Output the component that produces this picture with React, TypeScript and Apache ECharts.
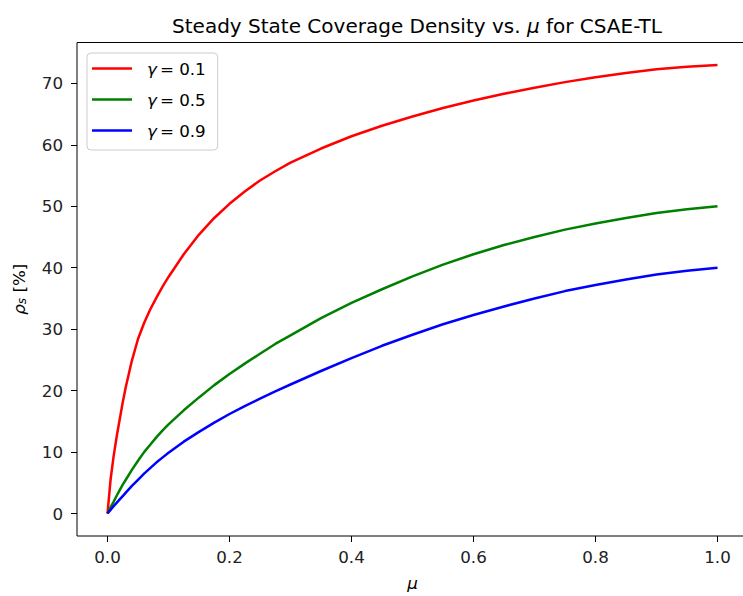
import React, { useEffect, useRef } from "react";
import * as echarts from "echarts";

const mu = [0, 0.005, 0.01, 0.015, 0.02, 0.025, 0.03, 0.04, 0.05, 0.06, 0.07, 0.08, 0.09, 0.1, 0.125, 0.15, 0.175, 0.2, 0.225, 0.25, 0.275, 0.3, 0.35, 0.4, 0.45, 0.5, 0.55, 0.6, 0.65, 0.7, 0.75, 0.8, 0.85, 0.9, 0.95, 1.0];
const rhoGamma01 = [0, 5.5, 9.3, 12.5, 15.3, 18.1, 20.6, 24.9, 28.4, 31.0, 33.2, 35.1, 36.9, 38.5, 42.2, 45.4, 48.1, 50.4, 52.4, 54.2, 55.7, 57.1, 59.4, 61.4, 63.1, 64.6, 66.0, 67.2, 68.3, 69.3, 70.2, 71.0, 71.7, 72.3, 72.7, 73.0];
const rhoGamma05 = [0, 1.0, 1.9, 2.9, 3.8, 4.7, 5.5, 7.1, 8.6, 10.0, 11.2, 12.4, 13.5, 14.5, 16.8, 18.9, 20.9, 22.7, 24.4, 26.0, 27.6, 29.0, 31.8, 34.3, 36.5, 38.6, 40.5, 42.2, 43.7, 45.0, 46.2, 47.2, 48.1, 48.9, 49.5, 50.0];
const rhoGamma09 = [0, 0.6, 1.2, 1.75, 2.3, 2.85, 3.4, 4.5, 5.5, 6.5, 7.4, 8.3, 9.1, 9.9, 11.7, 13.3, 14.8, 16.2, 17.5, 18.7, 19.9, 21.0, 23.2, 25.3, 27.3, 29.1, 30.8, 32.3, 33.7, 35.0, 36.2, 37.2, 38.1, 38.9, 39.5, 40.0];
const gammas = ["0.1", "0.5", "0.9"];
const colors = ["#ff0000", "#008000", "#0000ff"];
const xTicks = [0, 0.2, 0.4, 0.6, 0.8, 1.0];
const yTicks = [0, 10, 20, 30, 40, 50, 60, 70];

const FONT = "DejaVu Sans";

export default function App() {
  const ref = useRef<HTMLDivElement>(null);
  useEffect(() => {
    if (!ref.current) return;
    const chart = echarts.init(ref.current, undefined, { renderer: "svg" });
    const allSeries = [rhoGamma01, rhoGamma05, rhoGamma09];
    chart.setOption({
      animation: false,
      backgroundColor: "#ffffff",
      textStyle: { fontFamily: FONT },
      title: {
        text: "Steady State Coverage Density vs. {i|μ} for CSAE-TL",
        left: 412,
        textAlign: "center",
        top: 11,
        textStyle: {
          fontFamily: FONT,
          fontSize: 20,
          fontWeight: "normal",
          color: "#000",
          rich: { i: { fontFamily: FONT, fontSize: 20, fontStyle: "italic", color: "#000" } },
        },
      },
      legend: {
        orient: "vertical",
        left: 87,
        top: 53,
        padding: [7, 12, 11, 5],
        itemWidth: 40,
        itemHeight: 20,
        itemGap: 14,
        icon: "path://M0,0H40V2.5H0Z",
        backgroundColor: "rgba(255,255,255,0.8)",
        borderColor: "#cccccc",
        borderWidth: 1,
        borderRadius: 4,
        data: gammas.map((g) => `γ = ${g}`),
        formatter: (name: string) => `{g|γ}{t|= ${name.split("= ")[1]}}`,
        textStyle: {
          fontFamily: FONT,
          fontSize: 16.7,
          color: "#000",
          rich: {
            g: { fontFamily: FONT, fontSize: 16.7, fontStyle: "italic", color: "#000", padding: [0, 3, 0, 10] },
            t: { fontFamily: FONT, fontSize: 16.7, color: "#000" },
          },
        },
      },
      grid: {
        left: 77,
        top: 42.5,
        right: 1,
        bottom: 57.7,
        show: true,
        borderColor: "#000",
        borderWidth: 1,
        containLabel: false,
      },
      xAxis: {
        type: "value",
        min: -0.05,
        max: 1.05,
        name: "μ",
        nameLocation: "middle",
        nameGap: 38,
        nameTextStyle: { fontFamily: FONT, fontSize: 16.7, fontStyle: "italic", color: "#000" },
        axisLine: { show: false, onZero: false },
        axisTick: { show: true, length: 6, lineStyle: { color: "#000", width: 1 }, customValues: xTicks },
        axisLabel: {
          customValues: xTicks,
          margin: 12,
          fontFamily: FONT,
          fontSize: 16.7,
          color: "#222",
          formatter: (v: number) => v.toFixed(1),
        },
        splitLine: { show: false },
      },
      yAxis: {
        type: "value",
        min: -3.65,
        max: 76.65,
        name: "{r|ρ}{s|s}{n| [%]}",
        nameLocation: "middle",
        nameRotate: 90,
        nameGap: 49,
        nameTextStyle: {
          fontFamily: FONT,
          fontSize: 16.7,
          color: "#000",
          rich: {
            r: { fontFamily: FONT, fontSize: 16.7, fontStyle: "italic", color: "#000" },
            s: { fontFamily: FONT, fontSize: 12, fontStyle: "italic", color: "#000", padding: [6, 0, 0, 0] },
            n: { fontFamily: FONT, fontSize: 16.7, color: "#000" },
          },
        },
        axisLine: { show: false, onZero: false },
        axisTick: { show: true, length: 6, lineStyle: { color: "#000", width: 1 }, customValues: yTicks },
        axisLabel: {
          customValues: yTicks,
          margin: 14,
          fontFamily: FONT,
          fontSize: 16.7,
          color: "#222",
        },
        splitLine: { show: false },
      },
      series: gammas.map((g, i) => ({
        name: `γ = ${g}`,
        type: "line",
        data: mu.map((m, j) => [m, allSeries[i][j]]),
        symbol: "none",
        showSymbol: false,
        smooth: false,
        lineStyle: { color: colors[i], width: 2.5 },
        itemStyle: { color: colors[i] },
      })),
    });
    return () => chart.dispose();
  }, []);
  return (
    <div style={{ position: "fixed", left: 0, top: 0, width: 743, height: 596, overflow: "hidden" }}>
      <div ref={ref} style={{ width: 749, height: 596 }} />
    </div>
  );
}
